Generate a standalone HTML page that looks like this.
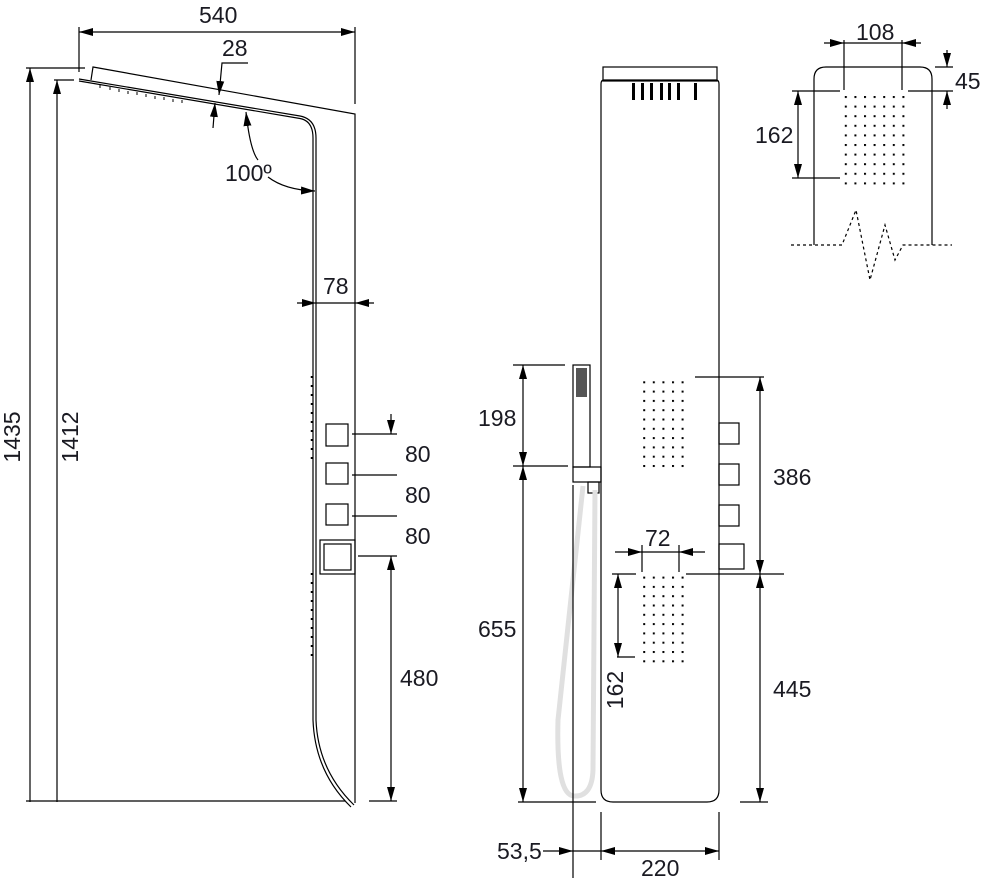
<!DOCTYPE html>
<html><head><meta charset="utf-8"><style>
html,body{margin:0;padding:0;background:#fff;}
svg{display:block;}
text{font-family:"Liberation Sans Narrow","Liberation Sans",sans-serif;font-stretch:condensed;font-size:23px;fill:#1a1a22;}
</style></head><body>
<svg width="1006" height="878" viewBox="0 0 1006 878" xmlns="http://www.w3.org/2000/svg">
<defs>
<marker id="a" viewBox="0 0 14 8" refX="14" refY="4" markerWidth="14" markerHeight="8" markerUnits="userSpaceOnUse" orient="auto-start-reverse"><path d="M0,0 L14,4 L0,8 z" fill="#000"/></marker>
<pattern id="dots" width="9.6" height="9.3" patternUnits="userSpaceOnUse"><rect x="0" y="0" width="2" height="2" fill="#000"/></pattern>
<pattern id="dots2" width="9.6" height="9.6" patternUnits="userSpaceOnUse"><rect x="0" y="0" width="2" height="2" fill="#000"/></pattern>
</defs>
<g stroke="#000" stroke-width="1.2" fill="none">
<line x1="79" y1="27" x2="79" y2="72"/>
<line x1="355" y1="27" x2="355" y2="104"/>
<line x1="79" y1="32" x2="355" y2="32" marker-start="url(#a)" marker-end="url(#a)"/>
<path d="M91,80 L93,67 L355,114 L355,803"/>
<path d="M79,79 L300,116 Q316,119 316,138 L316,720 Q318,770 354,805"/>
<path d="M79,81 L300,118.5 Q313,121 313,138 L313,720 Q315,772 351,807"/>
<line x1="26" y1="68" x2="85" y2="68"/>
<line x1="54" y1="80" x2="74" y2="80"/>
<line x1="30" y1="802" x2="30" y2="68" marker-end="url(#a)"/>
<line x1="57" y1="802" x2="57" y2="80" marker-end="url(#a)"/>
<line x1="26" y1="801" x2="345" y2="801"/>
<polyline points="248,63 222,63 219,95" marker-end="url(#a)"/>
<line x1="213" y1="128" x2="215" y2="103" marker-end="url(#a)"/>
<path d="M246,112 Q250,150 258,160" marker-start="url(#a)"/>
<path d="M268,177 Q285,190 315,191" marker-end="url(#a)"/>
<line x1="297" y1="303" x2="316" y2="303" marker-end="url(#a)"/>
<line x1="374" y1="303" x2="355" y2="303" marker-end="url(#a)"/>
<line x1="316" y1="303" x2="355" y2="303"/>
<rect x="326" y="424" width="22" height="22"/>
<rect x="326" y="463" width="22" height="21"/>
<rect x="326" y="504" width="22" height="21"/>
<rect x="320" y="540" width="35" height="34"/>
<rect x="324" y="544" width="27" height="26"/>
<line x1="352" y1="434" x2="397" y2="434"/>
<line x1="352" y1="475" x2="397" y2="475"/>
<line x1="352" y1="516" x2="397" y2="516"/>
<line x1="358" y1="556" x2="397" y2="556"/>
<line x1="369" y1="801" x2="397" y2="801"/>
<line x1="391" y1="414" x2="391" y2="434" marker-end="url(#a)"/>
<line x1="391" y1="801" x2="391" y2="556" marker-start="url(#a)" marker-end="url(#a)"/>
<rect x="603" y="67" width="114" height="14"/>
<path d="M604,80 L716,80 Q719,80 719,84 L719,790 Q719,802 707,802 L613,802 Q601,802 601,790 L601,84 Q601,80 604,80 Z"/>
<rect x="573" y="365" width="17" height="102"/>
<rect x="573" y="467" width="28" height="15"/>
<rect x="588" y="482" width="11" height="11"/>
<line x1="513" y1="365" x2="565" y2="365"/>
<line x1="513" y1="466" x2="568" y2="466"/>
<line x1="518" y1="802" x2="596" y2="802"/>
<line x1="523" y1="365" x2="523" y2="466" marker-start="url(#a)" marker-end="url(#a)"/>
<line x1="523" y1="802" x2="523" y2="466" marker-start="url(#a)" marker-end="url(#a)"/>
<path d="M583,486 L558,720 Q556,795 574,796 Q592,797 593,770 L595,490" stroke="#e0e0e0" stroke-width="5"/>
<line x1="573" y1="485" x2="573" y2="878"/>
<line x1="601" y1="812" x2="601" y2="860"/>
<line x1="719" y1="812" x2="719" y2="860"/>
<line x1="543" y1="851" x2="573" y2="851" marker-end="url(#a)"/>
<line x1="573" y1="851" x2="601" y2="851"/>
<line x1="719" y1="851" x2="601" y2="851" marker-start="url(#a)" marker-end="url(#a)"/>
<line x1="642" y1="545" x2="642" y2="572"/>
<line x1="679" y1="545" x2="679" y2="572"/>
<line x1="615" y1="552" x2="642" y2="552" marker-end="url(#a)"/>
<line x1="705" y1="552" x2="679" y2="552" marker-end="url(#a)"/>
<line x1="642" y1="552" x2="679" y2="552"/>
<line x1="612" y1="574" x2="636" y2="574"/>
<line x1="617" y1="657" x2="635" y2="657"/>
<line x1="618" y1="574" x2="618" y2="657" marker-start="url(#a)" marker-end="url(#a)"/>
<rect x="719" y="423" width="20" height="21"/>
<rect x="719" y="464" width="20" height="21"/>
<rect x="719" y="505" width="20" height="21"/>
<rect x="719" y="544" width="25" height="25"/>
<line x1="695" y1="377" x2="764" y2="377"/>
<line x1="686" y1="574" x2="784" y2="574"/>
<line x1="740" y1="802" x2="768" y2="802"/>
<line x1="760" y1="377" x2="760" y2="574" marker-start="url(#a)" marker-end="url(#a)"/>
<line x1="760" y1="802" x2="760" y2="574" marker-start="url(#a)" marker-end="url(#a)"/>
<path d="M814,245 L814,79 Q814,67 826,67 L920,67 Q932,67 932,79 L932,245"/>
<path d="M791,245 L842,245 L856,210 L870,280 L885,225 L895,260 L903,245 L952,245" stroke-dasharray="3,3"/>
<line x1="844" y1="40" x2="844" y2="90"/>
<line x1="902" y1="40" x2="902" y2="90"/>
<line x1="824" y1="43" x2="844" y2="43" marker-end="url(#a)"/>
<line x1="921" y1="43" x2="902" y2="43" marker-end="url(#a)"/>
<line x1="844" y1="43" x2="902" y2="43"/>
<line x1="935" y1="67" x2="953" y2="67"/>
<line x1="908" y1="91" x2="953" y2="91"/>
<line x1="947" y1="50" x2="947" y2="67" marker-end="url(#a)"/>
<line x1="947" y1="109" x2="947" y2="91" marker-end="url(#a)"/>
<line x1="792" y1="91" x2="840" y2="91"/>
<line x1="792" y1="178" x2="840" y2="178"/>
<line x1="798" y1="91" x2="798" y2="178" marker-start="url(#a)" marker-end="url(#a)"/>
</g>
<g fill="#000">
<rect x="632" y="83" width="3" height="17"/><rect x="641" y="83" width="3" height="17"/><rect x="650" y="83" width="3" height="17"/><rect x="660" y="83" width="3" height="17"/><rect x="668" y="83" width="3" height="17"/><rect x="677" y="83" width="3" height="17"/><rect x="694" y="83" width="3" height="17"/>
<rect x="576" y="368" width="11" height="29" fill="#555"/>
</g>
<g fill="none" stroke="#000" stroke-width="1">
<path d="M100,85 v3 M110,87 v3 M119,89 v3 M128,91 v3 M137,92 v3 M146,94 v3 M155,96 v3 M164,97 v3 M173,99 v3 M182,100 v3"/>
<path d="M312,376 v84 M312,573 v84" stroke-dasharray="2,7" stroke-width="2.5"/>
</g>
<rect x="641" y="376" width="48" height="93" fill="url(#dots)"/>
<rect x="641" y="573" width="48" height="93" fill="url(#dots)"/>
<rect x="843" y="90" width="67" height="96" fill="url(#dots2)"/>
<text x="199" y="23">540</text>
<text x="222" y="56">28</text>
<text x="225" y="181">100º</text>
<text x="323" y="294">78</text>
<text x="405" y="462">80</text>
<text x="405" y="503">80</text>
<text x="405" y="544">80</text>
<text x="400" y="686">480</text>
<text transform="translate(20,437) rotate(-90)" text-anchor="middle">1435</text>
<text transform="translate(78,437) rotate(-90)" text-anchor="middle">1412</text>
<text x="478" y="426">198</text>
<text x="478" y="637">655</text>
<text x="497" y="859">53,5</text>
<text x="641" y="876">220</text>
<text x="645" y="546">72</text>
<text transform="translate(623,690) rotate(-90)" text-anchor="middle">162</text>
<text x="773" y="485">386</text>
<text x="773" y="697">445</text>
<text x="856" y="40">108</text>
<text x="955" y="89">45</text>
<text x="755" y="143">162</text>
</svg>
</body></html>
